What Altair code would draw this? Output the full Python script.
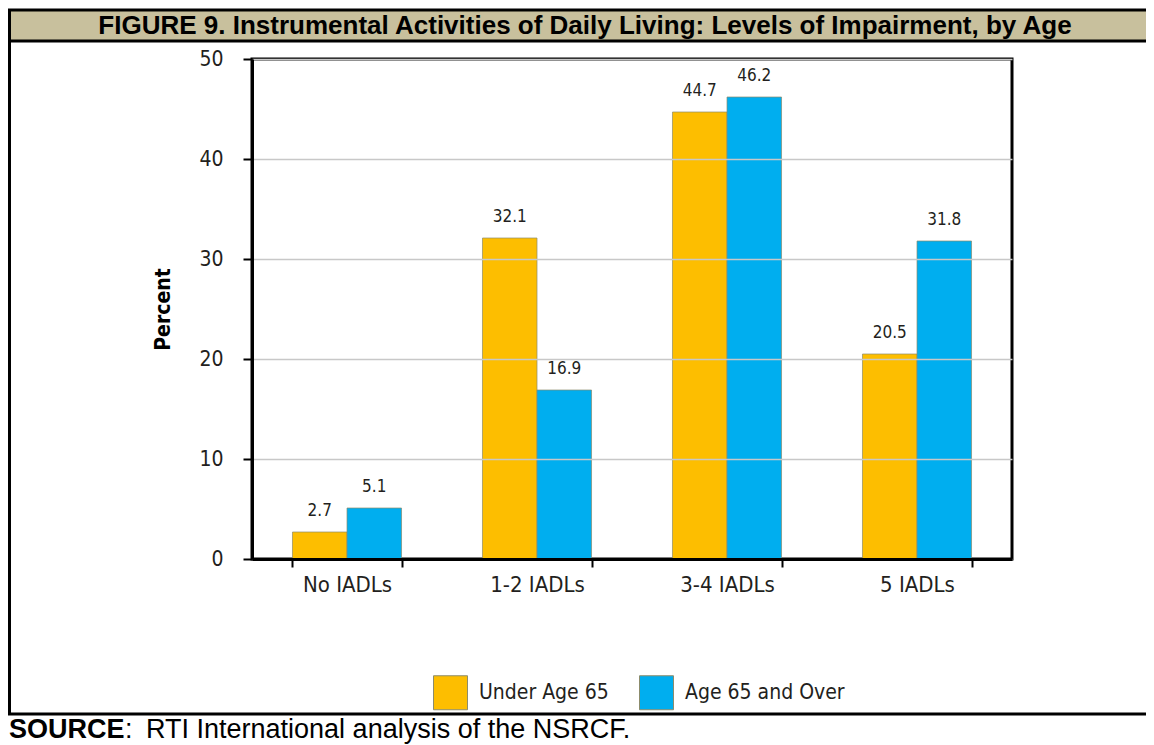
import altair as alt
import pandas as pd

# ---- data ----
categories = ["No IADLs", "1-2 IADLs", "3-4 IADLs", "5 IADLs"]
under_65 = [2.7, 32.1, 44.7, 20.5]
age_65_plus = [5.1, 16.9, 46.2, 31.8]
groups = ["Under Age 65", "Age 65 and Over"]
colors = ["#FDBE00", "#00AEEF"]
y_ticks = [0, 10, 20, 30, 40, 50]
title_text = "FIGURE 9. Instrumental Activities of Daily Living: Levels of Impairment, by Age"
source_bold = "SOURCE"
source_colon = ":"
source_rest = "RTI International analysis of the NSRCF."

rows = []
for c, u, o in zip(categories, under_65, age_65_plus):
    rows.append({"level": c, "group": groups[0], "pct": u})
    rows.append({"level": c, "group": groups[1], "pct": o})
df = pd.DataFrame(rows)

# ---- layout ----
W, H = 760, 500
PL, PT = 244, 51
PR = 1138 - PL - W
PB = 737 - PT - H

NARROW = "Liberation Sans Narrow, DejaVu Sans Condensed, Arial Narrow, sans-serif"
ARIAL = "Liberation Sans, Arial, sans-serif"
INK = "#231f20"

x_enc = alt.X(
    "level:N", sort=categories, title=None,
    scale=alt.Scale(paddingInner=0.426, paddingOuter=0.213),
    axis=alt.Axis(labelAngle=0, labelFont=NARROW, labelFontSize=22, labelColor=INK,
                  labelPadding=7, tickBand="extent", tickSize=8, tickWidth=2,
                  tickColor="black", domainColor="black", domainWidth=3,
                  grid=False, zindex=1),
)
y_enc = alt.Y(
    "pct:Q", title="Percent",
    scale=alt.Scale(domain=[0, 50], nice=False),
    axis=alt.Axis(values=y_ticks, labelFont=NARROW, labelFontSize=21, labelColor=INK,
                  labelPadding=20, tickSize=9, tickWidth=2, tickColor="black",
                  domainColor="black", domainWidth=3, grid=True,
                  gridColor="#c8c8c8", gridWidth=1.5,
                  titleFont=NARROW, titleFontSize=21, titleFontWeight="bold",
                  titleColor="black", titlePadding=25, zindex=1),
)
xo_enc = alt.XOffset("group:N", sort=groups,
                     scale=alt.Scale(paddingInner=0, paddingOuter=0))

base = alt.Chart(df)
bars = base.mark_bar(stroke="#8c8c6c", strokeWidth=1, strokeOpacity=0.7).encode(
    x=x_enc, xOffset=xo_enc, y=y_enc,
    color=alt.Color(
        "group:N", sort=groups,
        scale=alt.Scale(domain=groups, range=colors),
        legend=alt.Legend(orient="none", legendX=181, legendY=616, direction="horizontal",
                          title=None, symbolType="square", symbolSize=1156,
                          symbolStrokeColor="#8c8c6c", symbolStrokeWidth=1,
                          labelFont=NARROW, labelFontSize=21, labelColor=INK,
                          labelOffset=11, columnPadding=28, labelLimit=400),
    ),
)
labels = base.mark_text(baseline="alphabetic", dy=-16, font=NARROW, fontSize=17,
                        color=INK).encode(
    x=alt.X("level:N", sort=categories),
    xOffset=alt.XOffset("group:N", sort=groups),
    y=alt.Y("pct:Q"),
    text=alt.Text("pct:Q", format=".1f"),
)

one = alt.Data(values=[{"k": 0}])
header = alt.Chart(one).mark_rect(color="#C8C09D").encode(
    x=alt.value(-244), x2=alt.value(PR + W), y=alt.value(-48), y2=alt.value(-18))
rule_style = dict(color="black", strokeWidth=3)
top_line = alt.Chart(one).mark_rule(**rule_style).encode(
    x=alt.value(-244), x2=alt.value(PR + W), y=alt.value(-49))
head_line = alt.Chart(one).mark_rule(**rule_style).encode(
    x=alt.value(-244), x2=alt.value(PR + W), y=alt.value(-18))
left_line = alt.Chart(one).mark_rule(**rule_style).encode(
    x=alt.value(-242.5), y=alt.value(-50), y2=alt.value(656))
bottom_line = alt.Chart(one).mark_rule(**rule_style).encode(
    x=alt.value(-244), x2=alt.value(PR + W), y=alt.value(655))
title = alt.Chart(one).mark_text(text=title_text, font=ARIAL, fontWeight="bold",
                                  fontSize=26, align="center", baseline="alphabetic",
                                  color="black").encode(
    x=alt.value(333), y=alt.value(-25))
src1 = alt.Chart(one).mark_text(text=source_bold, font=ARIAL, fontWeight="bold",
                                 fontSize=27, align="left", baseline="alphabetic",
                                 color="black").encode(x=alt.value(-243), y=alt.value(679))
src2 = alt.Chart(one).mark_text(text=source_colon, font=ARIAL, fontSize=27, align="left",
                                 baseline="alphabetic", color="black").encode(
    x=alt.value(-127), y=alt.value(679))
src3 = alt.Chart(one).mark_text(text=source_rest, font=ARIAL, fontSize=27, align="left",
                                 baseline="alphabetic", color="black").encode(
    x=alt.value(-106), y=alt.value(679))

chart = alt.layer(
    header, top_line, head_line, left_line, bottom_line, title, src1, src2, src3,
    bars, labels,
).properties(
    width=W, height=H,
    autosize=alt.AutoSizeParams(type="none"),
    padding={"left": PL, "top": PT, "right": PR, "bottom": PB},
    background="white",
).configure_view(stroke="black", strokeWidth=3)

chart.save("out.html", embed_options={"renderer": "svg", "actions": False})
